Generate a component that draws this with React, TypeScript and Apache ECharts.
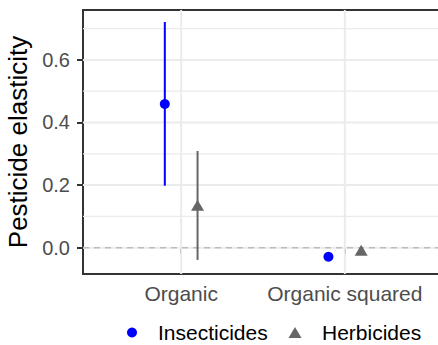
import React, { useEffect, useRef } from "react";
import * as echarts from "echarts";

const categories = ["Organic", "Organic squared"];
const insectEstimate = [0.459, -0.029];
const insectLower = [0.198, -0.036];
const insectUpper = [0.721, -0.022];
const herbEstimate = [0.136, -0.008];
const herbLower = [-0.039, -0.014];
const herbUpper = [0.309, -0.002];
const yTicks = [0, 0.2, 0.4, 0.6];
const yMinorTicks = [0.1, 0.3, 0.5, 0.7];
const categoryPositions = [1, 2];

const X_MIN = 0.4;
const X_MAX = 2.6;
const Y_MIN = -0.084;
const Y_MAX = 0.7594;
const DODGE = 0.1;
const FONT = "'Liberation Sans', Arial, Helvetica, sans-serif";

const hLine = (color: string, width: number, dash?: number[]) => (params: any, api: any) => {
  const p1 = api.coord([api.value(0), api.value(1)]);
  const p2 = api.coord([api.value(2), api.value(1)]);
  return {
    type: "line",
    shape: { x1: p1[0], y1: p1[1], x2: p2[0], y2: p2[1] },
    style: { stroke: color, lineWidth: width, lineDash: dash },
  };
};

const vLine = (color: string, width: number) => (params: any, api: any) => {
  const p1 = api.coord([api.value(0), api.value(1)]);
  const p2 = api.coord([api.value(0), api.value(2)]);
  return {
    type: "line",
    shape: { x1: p1[0], y1: p1[1], x2: p2[0], y2: p2[1] },
    style: { stroke: color, lineWidth: width },
  };
};

export default function App() {
  const ref = useRef<HTMLDivElement>(null);
  useEffect(() => {
    if (!ref.current) return;
    const chart = echarts.init(ref.current, undefined, { renderer: "svg" });
    const axisLabelColor = "#4d4d4d";
    chart.setOption({
      animation: false,
      textStyle: { fontFamily: FONT },
      grid: {
        left: 83,
        top: 10,
        width: 360,
        height: 264,
        show: true,
        borderColor: "#333333",
        borderWidth: 2,
        backgroundColor: "transparent",
        outerBoundsMode: "none",
        containLabel: false,
      },
      xAxis: {
        type: "value",
        min: X_MIN,
        max: X_MAX,
        axisLine: { show: false },
        splitLine: { show: false },
        axisTick: {
          show: true,
          customValues: categoryPositions,
          length: 6,
          lineStyle: { color: "#333333", width: 2 },
        },
        axisLabel: {
          customValues: categoryPositions,
          formatter: (v: number) => categories[Math.round(v) - 1] ?? "",
          color: axisLabelColor,
          fontSize: 21,
          fontFamily: FONT,
          margin: 9,
        },
      },
      yAxis: {
        type: "value",
        min: Y_MIN,
        max: Y_MAX,
        name: "Pesticide elasticity",
        nameLocation: "middle",
        nameGap: 46,
        nameTextStyle: { fontSize: 26, color: "#000000", fontFamily: FONT },
        axisLine: { show: false },
        splitLine: { show: false },
        axisTick: {
          show: true,
          customValues: yTicks,
          length: 6,
          lineStyle: { color: "#333333", width: 2 },
        },
        axisLabel: {
          customValues: yTicks,
          formatter: (v: number) => v.toFixed(1),
          color: axisLabelColor,
          fontSize: 20,
          fontFamily: FONT,
          margin: 13,
        },
      },
      legend: [
        {
          data: [{ name: "Insecticides", icon: "circle" }],
          left: 127,
          top: 322,
          padding: 0,
          itemWidth: 10,
          itemHeight: 10,
          textStyle: {
            fontSize: 21,
            lineHeight: 20,
            color: "#000000",
            fontFamily: FONT,
            padding: [0, 0, 0, 16],
          },
        },
        {
          data: [{ name: "Herbicides", icon: "triangle" }],
          left: 288.5,
          top: 322,
          padding: 0,
          itemWidth: 13,
          itemHeight: 11,
          textStyle: {
            fontSize: 21,
            lineHeight: 20,
            color: "#000000",
            fontFamily: FONT,
            padding: [0, 0, 0, 15.5],
          },
        },
      ],
      series: [
        {
          type: "custom",
          name: "minorGrid",
          silent: true,
          z: 1,
          encode: { x: [0, 2], y: 1 },
          data: yMinorTicks.map((v) => [X_MIN, v, X_MAX]),
          renderItem: hLine("#ebebeb", 1.2),
        },
        {
          type: "custom",
          name: "majorGrid",
          silent: true,
          z: 1,
          encode: { x: [0, 2], y: 1 },
          data: yTicks.map((v) => [X_MIN, v, X_MAX]),
          renderItem: hLine("#ebebeb", 2),
        },
        {
          type: "custom",
          name: "xGrid",
          silent: true,
          z: 1,
          encode: { x: 0, y: [1, 2] },
          data: categoryPositions.map((c) => [c, Y_MIN, Y_MAX]),
          renderItem: vLine("#ebebeb", 2),
        },
        {
          type: "custom",
          name: "zeroLine",
          silent: true,
          z: 2,
          encode: { x: [0, 2], y: 1 },
          data: [[X_MIN, 0, X_MAX]],
          renderItem: hLine("#bdbdbd", 1.5, [6, 5]),
        },
        {
          type: "custom",
          name: "insectCI",
          silent: true,
          z: 3,
          encode: { x: 0, y: [1, 2] },
          data: categoryPositions.map((c, i) => [c - DODGE, insectLower[i], insectUpper[i]]),
          renderItem: vLine("#0000ff", 2),
        },
        {
          type: "custom",
          name: "herbCI",
          silent: true,
          z: 3,
          encode: { x: 0, y: [1, 2] },
          data: categoryPositions.map((c, i) => [c + DODGE, herbLower[i], herbUpper[i]]),
          renderItem: vLine("#666666", 2),
        },
        {
          type: "scatter",
          name: "Insecticides",
          z: 4,
          symbol: "circle",
          symbolSize: 10,
          itemStyle: { color: "#0000ff", opacity: 1 },
          data: categoryPositions.map((c, i) => [c - DODGE, insectEstimate[i]]),
        },
        {
          type: "scatter",
          name: "Herbicides",
          z: 4,
          symbol: "triangle",
          symbolSize: [13, 11],
          itemStyle: { color: "#666666", opacity: 1 },
          data: categoryPositions.map((c, i) => [c + DODGE, herbEstimate[i]]),
        },
      ],
    });
    return () => chart.dispose();
  }, []);
  return (
    <div
      ref={ref}
      style={{ position: "fixed", left: 0, top: 0, width: 438, height: 345, background: "#ffffff" }}
    />
  );
}
